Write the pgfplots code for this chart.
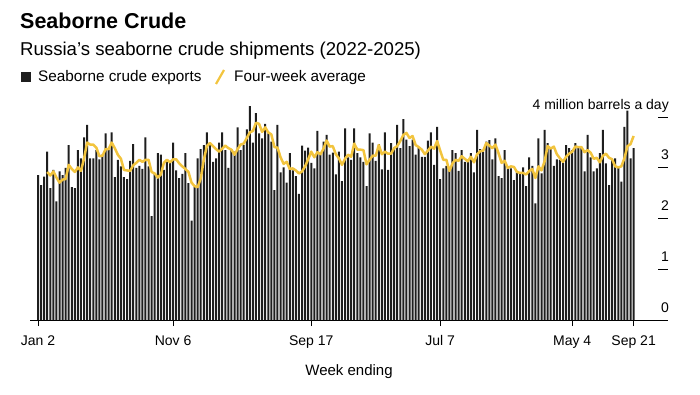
\documentclass[border=0pt]{standalone}
\usepackage{fontspec}
\setmainfont{Liberation Sans}
\usepackage{pgfplots}
\pgfplotsset{compat=1.18}
\definecolor{avgline}{RGB}{242,196,62}
\definecolor{barcol}{RGB}{30,30,30}
\begin{document}
\begin{tikzpicture}[x=1pt,y=1pt]
\begin{axis}[
 at={(30pt,74pt)}, anchor=south west,
 scale only axis, width=638pt, height=223.08pt,
 xmin=-2.61, xmax=205.2, ymin=0, ymax=4.4,
 axis x line*=bottom, axis y line*=right,
 x axis line style={-, line width=0.9pt},
 y axis line style={draw=none},
 xtick={0,44,89,131,174,194},
 xticklabels={Jan 2,Nov 6,Sep 17,Jul 7,May 4,Sep 21},
 tick align=outside, major tick length=6pt,
 xtick style={black, line width=0.8pt},
 ytick={0,1,2,3,4}, yticklabels={0,1,2,3,{4 million barrels a day}},
 ytick style={draw=none},
 /pgf/number format/assume math mode=true,
 yticklabel style={anchor=base east, inner sep=0pt, xshift=-5pt, yshift=8pt, font=\fontsize{14}{14}\selectfont},
 xticklabel style={font=\fontsize{14}{14}\selectfont, yshift=-6pt},
 xlabel={Week ending}, xlabel style={font=\fontsize{15}{15}\selectfont, yshift=-10pt},
 clip=false,
]
\addplot[ybar, bar width=2.0pt, fill=barcol, draw=none] coordinates {
(0,2.86) (1,2.66) (2,2.83) (3,3.32) (4,2.60) (5,2.96) (6,2.34) (7,2.93) (8,2.86) (9,3.00)
(10,3.45) (11,2.62) (12,2.60) (13,3.35) (14,3.19) (15,3.60) (16,3.85) (17,3.19) (18,3.19) (19,3.35)
(20,3.17) (21,3.26) (22,3.68) (23,3.35) (24,3.70) (25,2.82) (26,3.16) (27,3.03) (28,2.82) (29,2.78)
(30,3.14) (31,3.47) (32,3.00) (33,3.04) (34,2.98) (35,3.60) (36,3.03) (37,2.05) (38,2.88) (39,3.29)
(40,3.26) (41,2.96) (42,3.12) (43,3.10) (44,3.50) (45,2.95) (46,2.80) (47,2.88) (48,3.29) (49,2.70)
(50,1.96) (51,2.62) (52,3.19) (53,3.37) (54,3.45) (55,3.70) (56,3.45) (57,3.12) (58,3.19) (59,3.50)
(60,3.70) (61,3.35) (62,3.00) (63,3.37) (64,3.32) (65,3.80) (66,3.35) (67,3.45) (68,3.76) (69,4.22)
(70,3.50) (71,4.08) (72,3.68) (73,3.58) (74,3.87) (75,3.68) (76,3.52) (77,2.56) (78,3.85) (79,2.91)
(80,3.01) (81,2.71) (82,3.29) (83,2.95) (84,2.84) (85,2.49) (86,3.44) (87,3.34) (88,3.40) (89,3.10)
(90,2.99) (91,3.73) (92,3.26) (93,3.52) (94,3.65) (95,3.26) (96,3.30) (97,2.87) (98,3.32) (99,2.74)
(100,3.78) (101,3.21) (102,3.16) (103,3.78) (104,3.29) (105,3.21) (106,3.12) (107,2.64) (108,3.68) (109,3.50)
(110,3.14) (111,3.47) (112,2.97) (113,3.70) (114,2.96) (115,3.49) (116,3.40) (117,3.85) (118,3.39) (119,3.96)
(120,3.56) (121,3.43) (122,3.56) (123,3.26) (124,3.39) (125,3.22) (126,3.22) (127,3.54) (128,3.70) (129,3.06)
(130,3.81) (131,2.78) (132,2.99) (133,3.04) (134,2.96) (135,3.35) (136,3.29) (137,2.94) (138,3.35) (139,3.12)
(140,3.12) (141,3.29) (142,2.91) (143,3.75) (144,3.37) (145,3.32) (146,3.52) (147,3.55) (148,3.17) (149,3.58)
(150,2.84) (151,2.80) (152,3.35) (153,2.99) (154,2.99) (155,2.76) (156,2.93) (157,2.91) (158,3.01) (159,2.64)
(160,3.21) (161,3.04) (162,2.30) (163,3.58) (164,2.89) (165,3.75) (166,3.49) (167,3.39) (168,3.04) (169,3.17)
(170,3.16) (171,3.10) (172,3.45) (173,3.39) (174,3.35) (175,3.49) (176,3.42) (177,3.39) (178,2.93) (179,3.65)
(180,3.21) (181,2.93) (182,2.99) (183,3.29) (184,3.75) (185,3.09) (186,2.66) (187,3.16) (188,3.19) (189,3.03)
(190,2.73) (191,3.81) (192,4.13) (193,3.19) (194,3.39)
};
\addplot[avgline, line width=2.5pt, line join=round, mark=none] coordinates {
(3,2.92) (4,2.85) (5,2.93) (6,2.81) (7,2.71) (8,2.77) (9,2.78)
(10,3.06) (11,2.98) (12,2.92) (13,3.01) (14,2.94) (15,3.19) (16,3.50) (17,3.46) (18,3.46) (19,3.40)
(20,3.23) (21,3.24) (22,3.37) (23,3.37) (24,3.50) (25,3.39) (26,3.26) (27,3.18) (28,2.96) (29,2.95)
(30,2.94) (31,3.05) (32,3.10) (33,3.16) (34,3.12) (35,3.16) (36,3.16) (37,2.92) (38,2.89) (39,2.81)
(40,2.87) (41,3.10) (42,3.16) (43,3.11) (44,3.17) (45,3.17) (46,3.09) (47,3.03) (48,2.98) (49,2.92)
(50,2.71) (51,2.64) (52,2.62) (53,2.79) (54,3.16) (55,3.43) (56,3.49) (57,3.43) (58,3.37) (59,3.32)
(60,3.38) (61,3.44) (62,3.39) (63,3.36) (64,3.26) (65,3.37) (66,3.46) (67,3.48) (68,3.59) (69,3.70)
(70,3.73) (71,3.89) (72,3.87) (73,3.71) (74,3.80) (75,3.70) (76,3.66) (77,3.41) (78,3.40) (79,3.21)
(80,3.08) (81,3.12) (82,2.98) (83,2.99) (84,2.95) (85,2.89) (86,2.93) (87,3.03) (88,3.17) (89,3.32)
(90,3.21) (91,3.31) (92,3.27) (93,3.38) (94,3.54) (95,3.42) (96,3.43) (97,3.27) (98,3.19) (99,3.06)
(100,3.18) (101,3.26) (102,3.22) (103,3.48) (104,3.36) (105,3.36) (106,3.35) (107,3.07) (108,3.16) (109,3.24)
(110,3.24) (111,3.45) (112,3.27) (113,3.32) (114,3.28) (115,3.28) (116,3.39) (117,3.43) (118,3.53) (119,3.65)
(120,3.69) (121,3.59) (122,3.63) (123,3.45) (124,3.41) (125,3.36) (126,3.27) (127,3.34) (128,3.42) (129,3.38)
(130,3.53) (131,3.34) (132,3.16) (133,3.16) (134,2.94) (135,3.09) (136,3.16) (137,3.14) (138,3.23) (139,3.18)
(140,3.13) (141,3.22) (142,3.11) (143,3.27) (144,3.33) (145,3.34) (146,3.49) (147,3.44) (148,3.39) (149,3.46)
(150,3.29) (151,3.10) (152,3.14) (153,3.00) (154,3.03) (155,3.02) (156,2.92) (157,2.90) (158,2.90) (159,2.87)
(160,2.94) (161,2.98) (162,2.80) (163,3.03) (164,2.95) (165,3.13) (166,3.43) (167,3.38) (168,3.42) (169,3.27)
(170,3.19) (171,3.12) (172,3.22) (173,3.28) (174,3.32) (175,3.42) (176,3.41) (177,3.41) (178,3.31) (179,3.35)
(180,3.30) (181,3.18) (182,3.20) (183,3.11) (184,3.24) (185,3.28) (186,3.20) (187,3.17) (188,3.03) (189,3.01)
(190,3.03) (191,3.19) (192,3.43) (193,3.47) (194,3.63)
};
\draw[line width=0.9pt] (axis cs:201.95,1) -- (axis cs:205.2,1);
\draw[line width=0.9pt] (axis cs:201.95,2) -- (axis cs:205.2,2);
\draw[line width=0.9pt] (axis cs:201.95,3) -- (axis cs:205.2,3);
\draw[line width=0.9pt] (axis cs:201.95,4) -- (axis cs:205.2,4);
\end{axis}
\node[anchor=base west, inner sep=0pt, font=\fontsize{21.5}{21.5}\bfseries\selectfont] at (20,365) {Seaborne Crude};
\node[anchor=base west, inner sep=0pt, font=\fontsize{18.6}{18.6}\selectfont] at (20,338) {Russia's seaborne crude shipments (2022-2025)};
\fill[barcol] (21,312) rectangle (31,322);
\node[anchor=base west, inner sep=0pt, font=\fontsize{15.3}{15.3}\selectfont] at (38,312) {Seaborne crude exports};
\draw[avgline, line width=2.2pt] (216,310) -- (224,324);
\node[anchor=base west, inner sep=0pt, font=\fontsize{15.3}{15.3}\selectfont] at (234,312) {Four-week average};
\pgfresetboundingbox
\useasboundingbox (0,0) rectangle (700,394);
\end{tikzpicture}
\end{document}
